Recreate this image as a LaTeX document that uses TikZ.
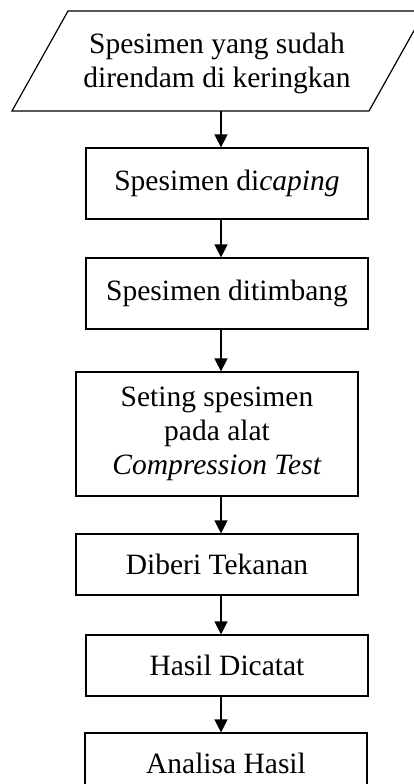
\documentclass[tikz,border=0pt]{standalone}
\usepackage{fontspec}
\setmainfont{Liberation Serif}
\usetikzlibrary{arrows.meta}
\tikzset{
  stepbox/.style={draw, line width=1.2pt, rectangle, minimum width=282pt, inner sep=0pt,
    align=center, font=\fontsize{29.5}{34}\selectfont},
  flow/.style={line width=1.2pt, -{Triangle[width=13pt,length=13pt]}},
  txt/.style={align=center, font=\fontsize{29.5}{34}\selectfont, inner sep=0pt}
}
\begin{document}
\begin{tikzpicture}[x=1pt,y=-1pt]
  \clip (0,0) rectangle (414,784);
  \useasboundingbox (0,0) rectangle (414,784);
  \fill[white] (0,0) rectangle (414,784);
  % column of the connectors
  \coordinate (ax) at (221,0);
  % input parallelogram
  \coordinate (p1) at (12,111);
  \coordinate (p2) at (369,111);
  \coordinate (p3) at (425,11);
  \coordinate (p4) at (68,11);
  \draw[line width=1.2pt, line join=miter] (p1) -- (p2) -- (p3) -- (p4) -- cycle;
  \node[txt] (in) at (217,63) {Spesimen yang sudah\\direndam di keringkan};
  \coordinate (inbot) at (221,111);
  % process steps
  \node[stepbox, minimum height=71pt] (b2) at (227,183.5) {Spesimen di\textit{caping}};
  \node[stepbox, minimum height=71pt] (b3) at (227,293.5) {Spesimen ditimbang};
  \node[stepbox, minimum height=124pt] (b4) at (217,434) {Seting spesimen\\pada alat\\\textit{Compression Test}};
  \node[stepbox, minimum height=61pt] (b5) at (217,564.5) {Diberi Tekanan};
  \node[stepbox, minimum height=61pt] (b6) at (227,665.5) {Hasil Dicatat};
  \node[stepbox, minimum height=61pt] (b7) at (226,763.5) {Analisa Hasil};
  % connectors
  \draw[flow] (inbot) -- (b2.north -| ax);
  \draw[flow] (b2.south -| ax) -- (b3.north -| ax);
  \draw[flow] (b3.south -| ax) -- (b4.north -| ax);
  \draw[flow] (b4.south -| ax) -- (b5.north -| ax);
  \draw[flow] (b5.south -| ax) -- (b6.north -| ax);
  \draw[flow] (b6.south -| ax) -- (b7.north -| ax);
\end{tikzpicture}
\end{document}
